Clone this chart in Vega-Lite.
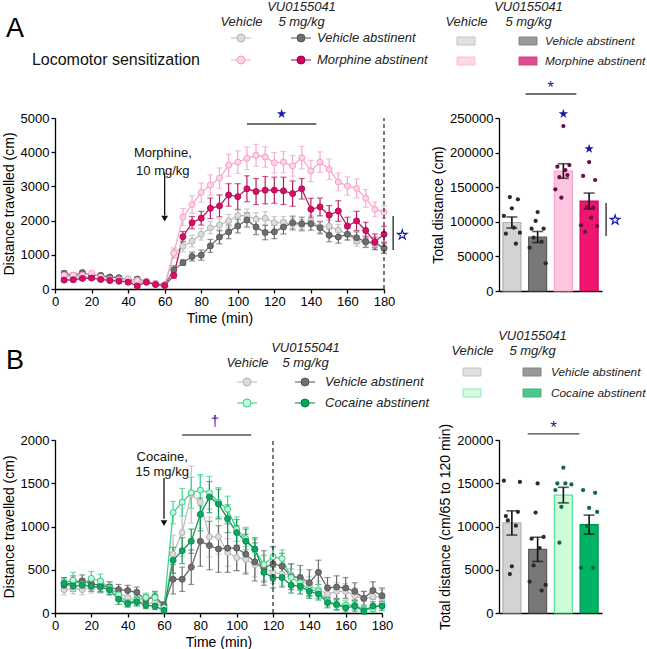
{
"$schema":"https://vega.github.io/schema/vega-lite/v6.json",
"background":"white",
"padding":{"left":2,"top":0,"right":0,"bottom":2},
"config":{"font":"Liberation Sans","view":{"stroke":null},
"axis":{"domainColor":"#000","domainWidth":1.3,"tickColor":"#000","tickWidth":1.3,"tickSize":4,"labelColor":"#000","labelFontSize":13,"labelPadding":2,"labelFlush":false,"labelOverlap":false,"titleColor":"#000","titleFontSize":14,"titleFontWeight":"normal","titlePadding":4,"grid":false}},
"datasets":{
"legA":[{"col":"Vehicle","row":"Vehicle abstinent","g":"VV"},{"col":"VU0155041","row":"Vehicle abstinent","g":"UV","label":"Vehicle abstinent"},{"col":"Vehicle","row":"Morphine abstinent","g":"VM"},{"col":"VU0155041","row":"Morphine abstinent","g":"UM","label":"Morphine abstinent"}],
"legB":[{"col":"Vehicle","row":"Vehicle abstinent","g":"VV"},{"col":"VU0155041","row":"Vehicle abstinent","g":"UV","label":"Vehicle abstinent"},{"col":"Vehicle","row":"Cocaine abstinent","g":"VC"},{"col":"VU0155041","row":"Cocaine abstinent","g":"UC","label":"Cocaine abstinent"}],
"lineA":[
{"t":5,"g":"VV","m":380,"s":50},{"t":10,"g":"VV","m":340,"s":50},{"t":15,"g":"VV","m":380,"s":60},{"t":20,"g":"VV","m":330,"s":50},{"t":25,"g":"VV","m":280,"s":40},{"t":30,"g":"VV","m":250,"s":40},{"t":35,"g":"VV","m":230,"s":40},{"t":40,"g":"VV","m":230,"s":40},{"t":45,"g":"VV","m":190,"s":40},{"t":50,"g":"VV","m":200,"s":40},{"t":55,"g":"VV","m":130,"s":30},{"t":60,"g":"VV","m":90,"s":30},{"t":65,"g":"VV","m":1050,"s":150},{"t":70,"g":"VV","m":1250,"s":160},{"t":75,"g":"VV","m":1400,"s":170},{"t":80,"g":"VV","m":1600,"s":170},{"t":85,"g":"VV","m":1790,"s":180},{"t":90,"g":"VV","m":1870,"s":180},{"t":95,"g":"VV","m":1990,"s":190},{"t":100,"g":"VV","m":2150,"s":190},{"t":105,"g":"VV","m":2140,"s":200},{"t":110,"g":"VV","m":2040,"s":190},{"t":115,"g":"VV","m":2070,"s":190},{"t":120,"g":"VV","m":1940,"s":180},{"t":125,"g":"VV","m":1940,"s":180},{"t":130,"g":"VV","m":1890,"s":180},{"t":135,"g":"VV","m":1860,"s":170},{"t":140,"g":"VV","m":1990,"s":170},{"t":145,"g":"VV","m":1820,"s":170},{"t":150,"g":"VV","m":1840,"s":180},{"t":155,"g":"VV","m":1720,"s":170},{"t":160,"g":"VV","m":1600,"s":160},{"t":165,"g":"VV","m":1400,"s":150},{"t":170,"g":"VV","m":1360,"s":150},{"t":175,"g":"VV","m":1310,"s":140},{"t":180,"g":"VV","m":1210,"s":130},
{"t":5,"g":"UV","m":460,"s":60},{"t":10,"g":"UV","m":400,"s":60},{"t":15,"g":"UV","m":480,"s":60},{"t":20,"g":"UV","m":400,"s":50},{"t":25,"g":"UV","m":400,"s":50},{"t":30,"g":"UV","m":350,"s":50},{"t":35,"g":"UV","m":330,"s":40},{"t":40,"g":"UV","m":260,"s":40},{"t":45,"g":"UV","m":290,"s":50},{"t":50,"g":"UV","m":220,"s":40},{"t":55,"g":"UV","m":160,"s":40},{"t":60,"g":"UV","m":120,"s":30},{"t":65,"g":"UV","m":560,"s":120},{"t":70,"g":"UV","m":770,"s":80},{"t":75,"g":"UV","m":950,"s":130},{"t":80,"g":"UV","m":990,"s":150},{"t":85,"g":"UV","m":1260,"s":190},{"t":90,"g":"UV","m":1520,"s":200},{"t":95,"g":"UV","m":1670,"s":200},{"t":100,"g":"UV","m":1840,"s":200},{"t":105,"g":"UV","m":2020,"s":210},{"t":110,"g":"UV","m":1810,"s":220},{"t":115,"g":"UV","m":1650,"s":210},{"t":120,"g":"UV","m":1670,"s":200},{"t":125,"g":"UV","m":1810,"s":200},{"t":130,"g":"UV","m":1940,"s":190},{"t":135,"g":"UV","m":1910,"s":190},{"t":140,"g":"UV","m":1910,"s":190},{"t":145,"g":"UV","m":1790,"s":180},{"t":150,"g":"UV","m":1570,"s":190},{"t":155,"g":"UV","m":1520,"s":180},{"t":160,"g":"UV","m":1600,"s":170},{"t":165,"g":"UV","m":1500,"s":170},{"t":170,"g":"UV","m":1380,"s":160},{"t":175,"g":"UV","m":1360,"s":150},{"t":180,"g":"UV","m":1190,"s":150},
{"t":5,"g":"VM","m":400,"s":60},{"t":10,"g":"VM","m":400,"s":60},{"t":15,"g":"VM","m":400,"s":60},{"t":20,"g":"VM","m":460,"s":60},{"t":25,"g":"VM","m":350,"s":50},{"t":30,"g":"VM","m":280,"s":40},{"t":35,"g":"VM","m":270,"s":40},{"t":40,"g":"VM","m":300,"s":40},{"t":45,"g":"VM","m":250,"s":40},{"t":50,"g":"VM","m":230,"s":40},{"t":55,"g":"VM","m":160,"s":30},{"t":60,"g":"VM","m":110,"s":30},{"t":65,"g":"VM","m":1050,"s":120},{"t":70,"g":"VM","m":2100,"s":250},{"t":75,"g":"VM","m":2470,"s":260},{"t":80,"g":"VM","m":2820,"s":280},{"t":85,"g":"VM","m":3040,"s":300},{"t":90,"g":"VM","m":3240,"s":300},{"t":95,"g":"VM","m":3620,"s":320},{"t":100,"g":"VM","m":3710,"s":330},{"t":105,"g":"VM","m":3820,"s":330},{"t":110,"g":"VM","m":3910,"s":320},{"t":115,"g":"VM","m":3860,"s":300},{"t":120,"g":"VM","m":3690,"s":300},{"t":125,"g":"VM","m":3710,"s":310},{"t":130,"g":"VM","m":3600,"s":300},{"t":135,"g":"VM","m":3840,"s":330},{"t":140,"g":"VM","m":3450,"s":310},{"t":145,"g":"VM","m":3710,"s":300},{"t":150,"g":"VM","m":3500,"s":300},{"t":155,"g":"VM","m":3130,"s":260},{"t":160,"g":"VM","m":3010,"s":270},{"t":165,"g":"VM","m":2940,"s":280},{"t":170,"g":"VM","m":2650,"s":260},{"t":175,"g":"VM","m":2330,"s":220},{"t":180,"g":"VM","m":2250,"s":180},
{"t":5,"g":"UM","m":260,"s":50},{"t":10,"g":"UM","m":270,"s":50},{"t":15,"g":"UM","m":310,"s":50},{"t":20,"g":"UM","m":320,"s":50},{"t":25,"g":"UM","m":280,"s":40},{"t":30,"g":"UM","m":250,"s":40},{"t":35,"g":"UM","m":230,"s":40},{"t":40,"g":"UM","m":200,"s":40},{"t":45,"g":"UM","m":90,"s":40},{"t":50,"g":"UM","m":200,"s":40},{"t":55,"g":"UM","m":130,"s":30},{"t":60,"g":"UM","m":100,"s":30},{"t":65,"g":"UM","m":400,"s":90},{"t":70,"g":"UM","m":1530,"s":150},{"t":75,"g":"UM","m":1940,"s":180},{"t":80,"g":"UM","m":2070,"s":200},{"t":85,"g":"UM","m":2360,"s":300},{"t":90,"g":"UM","m":2430,"s":320},{"t":95,"g":"UM","m":2750,"s":330},{"t":100,"g":"UM","m":2700,"s":380},{"t":105,"g":"UM","m":2930,"s":380},{"t":110,"g":"UM","m":2850,"s":380},{"t":115,"g":"UM","m":2890,"s":400},{"t":120,"g":"UM","m":2890,"s":380},{"t":125,"g":"UM","m":2870,"s":400},{"t":130,"g":"UM","m":2790,"s":370},{"t":135,"g":"UM","m":2930,"s":300},{"t":140,"g":"UM","m":2330,"s":320},{"t":145,"g":"UM","m":2400,"s":260},{"t":150,"g":"UM","m":2160,"s":280},{"t":155,"g":"UM","m":2280,"s":300},{"t":160,"g":"UM","m":1840,"s":260},{"t":165,"g":"UM","m":1990,"s":280},{"t":170,"g":"UM","m":1710,"s":240},{"t":175,"g":"UM","m":1380,"s":230},{"t":180,"g":"UM","m":1600,"s":230}],
"lineB":[
{"t":5,"g":"VV","m":270,"s":60},{"t":10,"g":"VV","m":280,"s":60},{"t":15,"g":"VV","m":270,"s":60},{"t":20,"g":"VV","m":300,"s":70},{"t":25,"g":"VV","m":300,"s":70},{"t":30,"g":"VV","m":270,"s":60},{"t":35,"g":"VV","m":230,"s":60},{"t":40,"g":"VV","m":180,"s":60},{"t":45,"g":"VV","m":140,"s":50},{"t":50,"g":"VV","m":110,"s":50},{"t":55,"g":"VV","m":120,"s":50},{"t":60,"g":"VV","m":60,"s":40},{"t":65,"g":"VV","m":680,"s":220},{"t":70,"g":"VV","m":930,"s":280},{"t":75,"g":"VV","m":1370,"s":330},{"t":80,"g":"VV","m":1280,"s":300},{"t":85,"g":"VV","m":880,"s":230},{"t":90,"g":"VV","m":880,"s":200},{"t":95,"g":"VV","m":700,"s":160},{"t":100,"g":"VV","m":640,"s":150},{"t":105,"g":"VV","m":620,"s":150},{"t":110,"g":"VV","m":560,"s":140},{"t":115,"g":"VV","m":520,"s":140},{"t":120,"g":"VV","m":470,"s":130},{"t":125,"g":"VV","m":450,"s":130},{"t":130,"g":"VV","m":440,"s":120},{"t":135,"g":"VV","m":390,"s":110},{"t":140,"g":"VV","m":310,"s":110},{"t":145,"g":"VV","m":270,"s":100},{"t":150,"g":"VV","m":220,"s":100},{"t":155,"g":"VV","m":250,"s":100},{"t":160,"g":"VV","m":250,"s":90},{"t":165,"g":"VV","m":200,"s":90},{"t":170,"g":"VV","m":160,"s":90},{"t":175,"g":"VV","m":190,"s":90},{"t":180,"g":"VV","m":180,"s":90},
{"t":5,"g":"UV","m":320,"s":60},{"t":10,"g":"UV","m":360,"s":70},{"t":15,"g":"UV","m":370,"s":70},{"t":20,"g":"UV","m":340,"s":70},{"t":25,"g":"UV","m":320,"s":70},{"t":30,"g":"UV","m":300,"s":60},{"t":35,"g":"UV","m":270,"s":60},{"t":40,"g":"UV","m":260,"s":60},{"t":45,"g":"UV","m":240,"s":60},{"t":50,"g":"UV","m":150,"s":60},{"t":55,"g":"UV","m":190,"s":60},{"t":60,"g":"UV","m":90,"s":40},{"t":65,"g":"UV","m":390,"s":170},{"t":70,"g":"UV","m":390,"s":140},{"t":75,"g":"UV","m":530,"s":200},{"t":80,"g":"UV","m":830,"s":290},{"t":85,"g":"UV","m":780,"s":280},{"t":90,"g":"UV","m":740,"s":270},{"t":95,"g":"UV","m":750,"s":280},{"t":100,"g":"UV","m":750,"s":260},{"t":105,"g":"UV","m":680,"s":230},{"t":110,"g":"UV","m":590,"s":220},{"t":115,"g":"UV","m":520,"s":200},{"t":120,"g":"UV","m":570,"s":200},{"t":125,"g":"UV","m":540,"s":150},{"t":130,"g":"UV","m":420,"s":150},{"t":135,"g":"UV","m":410,"s":140},{"t":140,"g":"UV","m":350,"s":150},{"t":145,"g":"UV","m":470,"s":140},{"t":150,"g":"UV","m":290,"s":120},{"t":155,"g":"UV","m":300,"s":130},{"t":160,"g":"UV","m":290,"s":120},{"t":165,"g":"UV","m":250,"s":100},{"t":170,"g":"UV","m":170,"s":80},{"t":175,"g":"UV","m":260,"s":100},{"t":180,"g":"UV","m":200,"s":90},
{"t":5,"g":"VC","m":350,"s":60},{"t":10,"g":"VC","m":380,"s":90},{"t":15,"g":"VC","m":330,"s":70},{"t":20,"g":"VC","m":400,"s":80},{"t":25,"g":"VC","m":370,"s":80},{"t":30,"g":"VC","m":290,"s":70},{"t":35,"g":"VC","m":210,"s":60},{"t":40,"g":"VC","m":120,"s":50},{"t":45,"g":"VC","m":150,"s":50},{"t":50,"g":"VC","m":180,"s":50},{"t":55,"g":"VC","m":180,"s":60},{"t":60,"g":"VC","m":60,"s":30},{"t":65,"g":"VC","m":1160,"s":130},{"t":70,"g":"VC","m":1280,"s":160},{"t":75,"g":"VC","m":1390,"s":180},{"t":80,"g":"VC","m":1420,"s":180},{"t":85,"g":"VC","m":1390,"s":190},{"t":90,"g":"VC","m":1280,"s":170},{"t":95,"g":"VC","m":1200,"s":150},{"t":100,"g":"VC","m":970,"s":140},{"t":105,"g":"VC","m":860,"s":130},{"t":110,"g":"VC","m":730,"s":120},{"t":115,"g":"VC","m":560,"s":110},{"t":120,"g":"VC","m":650,"s":110},{"t":125,"g":"VC","m":630,"s":100},{"t":130,"g":"VC","m":410,"s":100},{"t":135,"g":"VC","m":350,"s":90},{"t":140,"g":"VC","m":270,"s":80},{"t":145,"g":"VC","m":250,"s":80},{"t":150,"g":"VC","m":140,"s":60},{"t":155,"g":"VC","m":90,"s":60},{"t":160,"g":"VC","m":90,"s":50},{"t":165,"g":"VC","m":90,"s":50},{"t":170,"g":"VC","m":40,"s":40},{"t":175,"g":"VC","m":50,"s":40},{"t":180,"g":"VC","m":100,"s":40},
{"t":5,"g":"UC","m":340,"s":70},{"t":10,"g":"UC","m":310,"s":60},{"t":15,"g":"UC","m":320,"s":60},{"t":20,"g":"UC","m":310,"s":60},{"t":25,"g":"UC","m":300,"s":60},{"t":30,"g":"UC","m":270,"s":60},{"t":35,"g":"UC","m":160,"s":60},{"t":40,"g":"UC","m":110,"s":40},{"t":45,"g":"UC","m":130,"s":50},{"t":50,"g":"UC","m":90,"s":40},{"t":55,"g":"UC","m":80,"s":40},{"t":60,"g":"UC","m":30,"s":30},{"t":65,"g":"UC","m":610,"s":150},{"t":70,"g":"UC","m":720,"s":150},{"t":75,"g":"UC","m":830,"s":140},{"t":80,"g":"UC","m":1140,"s":190},{"t":85,"g":"UC","m":1340,"s":180},{"t":90,"g":"UC","m":1260,"s":170},{"t":95,"g":"UC","m":1090,"s":160},{"t":100,"g":"UC","m":930,"s":150},{"t":105,"g":"UC","m":830,"s":140},{"t":110,"g":"UC","m":740,"s":130},{"t":115,"g":"UC","m":470,"s":110},{"t":120,"g":"UC","m":410,"s":120},{"t":125,"g":"UC","m":410,"s":110},{"t":130,"g":"UC","m":320,"s":90},{"t":135,"g":"UC","m":310,"s":90},{"t":140,"g":"UC","m":250,"s":80},{"t":145,"g":"UC","m":220,"s":70},{"t":150,"g":"UC","m":120,"s":60},{"t":155,"g":"UC","m":100,"s":60},{"t":160,"g":"UC","m":60,"s":50},{"t":165,"g":"UC","m":80,"s":60},{"t":170,"g":"UC","m":25,"s":40},{"t":175,"g":"UC","m":80,"s":50},{"t":180,"g":"UC","m":80,"s":50}],
"barA":[{"grp":"VV","value":99000,"sem":8000},{"grp":"UV","value":78000,"sem":8000},{"grp":"VM","value":173400,"sem":10500},{"grp":"UM","value":130000,"sem":11500}],
"ptsA":[{"grp":"VV","animal":4,"value":135800},{"grp":"VV","animal":8,"value":132500},{"grp":"VV","animal":5,"value":119500},{"grp":"VV","animal":1,"value":108400},{"grp":"VV","animal":6,"value":91500},{"grp":"VV","animal":9,"value":84300},{"grp":"VV","animal":2,"value":82800},{"grp":"VV","animal":7,"value":68400},
{"grp":"UV","animal":5,"value":114100},{"grp":"UV","animal":4,"value":101200},{"grp":"UV","animal":2,"value":90000},{"grp":"UV","animal":8,"value":90000},{"grp":"UV","animal":3,"value":77000},{"grp":"UV","animal":7,"value":71200},{"grp":"UV","animal":1,"value":62600},{"grp":"UV","animal":9,"value":40000},
{"grp":"VM","animal":5,"value":238400},{"grp":"VM","animal":2,"value":179700},{"grp":"VM","animal":8,"value":182000},{"grp":"VM","animal":6,"value":174800},{"grp":"VM","animal":3,"value":164700},{"grp":"VM","animal":7,"value":167600},{"grp":"VM","animal":1,"value":147000},{"grp":"VM","animal":4,"value":134800},
{"grp":"UM","animal":5,"value":186400},{"grp":"UM","animal":2,"value":166200},{"grp":"UM","animal":8,"value":160400},{"grp":"UM","animal":4,"value":121400},{"grp":"UM","animal":7,"value":120400},{"grp":"UM","animal":6,"value":105900},{"grp":"UM","animal":1,"value":94900},{"grp":"UM","animal":9,"value":93900},{"grp":"UM","animal":3,"value":85700}],
"barB":[{"grp":"VV","value":10410,"sem":1400},{"grp":"UV","value":7360,"sem":1400},{"grp":"VC","value":13630,"sem":900},{"grp":"UC","value":10220,"sem":1100}],
"ptsB":[{"grp":"VV","animal":1,"value":15300},{"grp":"VV","animal":9,"value":15150},{"grp":"VV","animal":8,"value":11700},{"grp":"VV","animal":2,"value":11200},{"grp":"VV","animal":3,"value":10700},{"grp":"VV","animal":7,"value":10100},{"grp":"VV","animal":5,"value":5400},{"grp":"VV","animal":4,"value":4500},
{"grp":"UV","animal":5,"value":14980},{"grp":"UV","animal":4,"value":11610},{"grp":"UV","animal":8,"value":8790},{"grp":"UV","animal":2,"value":8590},{"grp":"UV","animal":6,"value":7510},{"grp":"UV","animal":3,"value":5500},{"grp":"UV","animal":1,"value":3640},{"grp":"UV","animal":9,"value":3250},{"grp":"UV","animal":7,"value":2600},
{"grp":"VC","animal":5,"value":16800},{"grp":"VC","animal":2,"value":14980},{"grp":"VC","animal":6,"value":14980},{"grp":"VC","animal":9,"value":14860},{"grp":"VC","animal":1,"value":14210},{"grp":"VC","animal":4,"value":12270},{"grp":"VC","animal":3,"value":8130},
{"grp":"UC","animal":2,"value":14210},{"grp":"UC","animal":8,"value":13900},{"grp":"UC","animal":5,"value":12160},{"grp":"UC","animal":9,"value":11690},{"grp":"UC","animal":4,"value":10070},{"grp":"UC","animal":1,"value":5230},{"grp":"UC","animal":7,"value":5230}]
},
"columns":2,
"bounds":"flush",
"align":"each",
"spacing":{"row":10,"column":115},
"resolve":{"scale":{"x":"independent","y":"independent","color":"independent","fill":"independent","stroke":"independent","xOffset":"independent"}},
"concat":[
{"width":329,"height":94,"data":{"name":"legA"},
"layer":[
{"mark":{"type":"tick","orient":"horizontal","size":20,"thickness":1.5},
"encoding":{
"x":{"field":"col","type":"nominal","scale":{"type":"point","domain":["Vehicle","VU0155041"],"range":[186,246],"padding":0},"axis":{"orient":"top","title":null,"domain":false,"ticks":false,"labelPadding":1,"labelAngle":0,"labelFontStyle":"italic","labelFontSize":13,"labelLineHeight":15,"labelColor":"#222","labelExpr":"datum.value == 'VU0155041' ? ['VU0155041', '5 mg/kg'] : ['', datum.value]"}},
"y":{"field":"row","type":"nominal","scale":{"type":"point","domain":["Vehicle abstinent","Morphine abstinent"],"range":[24,46],"padding":0},"axis":null},
"color":{"field":"g","type":"nominal","scale":{"domain":["VV","UV","VM","UM"],"range":["#bdbdbd","#5a5a5a","#f7a8cd","#b0104f"]},"legend":null}}},
{"mark":{"type":"point","filled":true,"size":64,"strokeWidth":1,"opacity":1},
"encoding":{"x":{"field":"col","type":"nominal"},"y":{"field":"row","type":"nominal"},
"fill":{"field":"g","type":"nominal","scale":{"domain":["VV","UV","VM","UM"],"range":["#dcdcdc","#6e6e6e","#ffd3e8","#d4005f"]},"legend":null},
"stroke":{"field":"g","type":"nominal","scale":{"domain":["VV","UV","VM","UM"],"range":["#b4b4b4","#5a5a5a","#f59fc8","#a0004a"]},"legend":null}}},
{"transform":[{"filter":"isValid(datum.label)"}],
"mark":{"type":"text","align":"left","baseline":"middle","dx":16,"fontSize":13,"fontStyle":"italic","color":"#222"},
"encoding":{"x":{"field":"col","type":"nominal"},"y":{"field":"row","type":"nominal"},"text":{"field":"label"}}},
{"data":{"values":[{"txt":"Locomotor sensitization","col":"Vehicle","row":"Morphine abstinent"}]},
"mark":{"type":"text","align":"right","baseline":"middle","dx":-41,"fontSize":16,"color":"#111"},
"encoding":{"x":{"field":"col","type":"nominal"},"y":{"field":"row","type":"nominal"},"text":{"field":"txt"}}},
{"data":{"values":[{"txt":"A","col":"Vehicle","row":"Vehicle abstinent"}]},
"mark":{"type":"text","align":"left","baseline":"middle","dx":-235,"dy":-9,"fontSize":27,"color":"#000"},
"encoding":{"x":{"field":"col","type":"nominal"},"y":{"field":"row","type":"nominal"},"text":{"field":"txt"}}}
]},
{"width":103,"height":94,"data":{"name":"legA"},
"layer":[
{"mark":{"type":"tick","orient":"horizontal","size":18,"thickness":8,"strokeWidth":1},
"encoding":{
"x":{"field":"col","type":"nominal","scale":{"type":"point","domain":["Vehicle","VU0155041"],"range":[-33,29],"padding":0},"axis":{"orient":"top","title":null,"domain":false,"ticks":false,"labelPadding":1,"labelAngle":0,"labelFontStyle":"italic","labelFontSize":13,"labelLineHeight":15,"labelColor":"#222","labelExpr":"datum.value == 'VU0155041' ? ['VU0155041', '5 mg/kg'] : ['', datum.value]"}},
"y":{"field":"row","type":"nominal","scale":{"type":"point","domain":["Vehicle abstinent","Morphine abstinent"],"range":[27,47],"padding":0},"axis":null},
"fill":{"field":"g","type":"nominal","scale":{"domain":["VV","UV","VM","UM"],"range":["#d4d4d4","#6f6f6f","#ffc8df","#d6005f"]},"legend":null},
"stroke":{"field":"g","type":"nominal","scale":{"domain":["VV","UV","VM","UM"],"range":["#ababab","#555555","#f7a4c8","#b0004d"]},"legend":null}}},
{"transform":[{"filter":"isValid(datum.label)"}],
"mark":{"type":"text","align":"left","baseline":"middle","dx":17,"fontSize":11.8,"fontStyle":"italic","color":"#222"},
"encoding":{"x":{"field":"col","type":"nominal"},"y":{"field":"row","type":"nominal"},"text":{"field":"label"}}}
]},
{"width":329,"height":171,
"encoding":{
"x":{"field":"t","type":"quantitative","scale":{"domain":[0,180],"nice":false,"zero":false},"axis":{"values":[0,20,40,60,80,100,120,140,160,180],"labelOverlap":false,"format":"d","title":"Time (min)","titlePadding":3}},
"y":{"field":"m","type":"quantitative","scale":{"domain":[0,5000],"nice":false},"axis":{"values":[0,1000,2000,3000,4000,5000],"labelOverlap":false,"format":"d","title":"Distance travelled (cm)"}}},
"layer":[
{"data":{"name":"lineA"},"mark":{"type":"line","strokeWidth":1.3},
"encoding":{"color":{"field":"g","type":"nominal","scale":{"domain":["VV","UV","VM","UM"],"range":["#bdbdbd","#6a6a6a","#f7a8cd","#b81a5e"]},"legend":null}}},
{"data":{"name":"lineA"},"mark":{"type":"errorbar","ticks":{"size":6},"thickness":1.2},
"encoding":{"yError":{"field":"s"},"color":{"field":"g","type":"nominal"}}},
{"data":{"name":"lineA"},"mark":{"type":"point","filled":true,"size":36,"strokeWidth":1,"opacity":1},
"encoding":{
"fill":{"field":"g","type":"nominal","scale":{"domain":["VV","UV","VM","UM"],"range":["#dcdcdc","#6e6e6e","#ffd3e8","#dc0a6a"]},"legend":null},
"stroke":{"field":"g","type":"nominal","scale":{"domain":["VV","UV","VM","UM"],"range":["#b4b4b4","#5a5a5a","#f59fc8","#b0104f"]},"legend":null}}},
{"data":{"values":[{"t":180,"m":0,"m2":5000}]},"mark":{"type":"rule","strokeDash":[4,3],"color":"#222","strokeWidth":1.2},"encoding":{"y2":{"field":"m2"}}},
{"data":{"values":[{"t":60,"m":3400,"m2":2150}]},"mark":{"type":"rule","color":"#111","strokeWidth":1.3},"encoding":{"y2":{"field":"m2"}}},
{"data":{"values":[{"t":60,"m":2060}]},"mark":{"type":"point","shape":"triangle-down","filled":true,"size":45,"color":"#111","opacity":1}},
{"data":{"values":[{"t":59,"m":3980,"label":"Morphine,\n10 mg/kg"}]},"mark":{"type":"text","lineBreak":"\n","fontSize":13,"lineHeight":18,"align":"center","baseline":"middle","color":"#111"},"encoding":{"text":{"field":"label"}}},
{"data":{"values":[{"t":105,"t2":143,"m":4825}]},"mark":{"type":"rule","color":"#444","strokeWidth":1.5},"encoding":{"x2":{"field":"t2"}}},
{"data":{"values":[{"t":124,"m":5120}]},"mark":{"type":"point","shape":"M0,-1L0.2245,-0.309L0.951,-0.309L0.363,0.118L0.588,0.809L0,0.382L-0.588,0.809L-0.363,0.118L-0.951,-0.309L-0.2245,-0.309Z","filled":true,"size":100,"color":"#1a1aa6","opacity":1}},
{"data":{"values":[{"t":185,"m":2134,"m2":1140}]},"mark":{"type":"rule","color":"#222","strokeWidth":1.3},"encoding":{"y2":{"field":"m2"}}},
{"data":{"values":[{"t":190,"m":1580}]},"mark":{"type":"point","shape":"M0,-1L0.2245,-0.309L0.951,-0.309L0.363,0.118L0.588,0.809L0,0.382L-0.588,0.809L-0.363,0.118L-0.951,-0.309L-0.2245,-0.309Z","filled":false,"size":100,"strokeWidth":1.2,"color":"#1a1aa6","opacity":1}}
]},
{"width":103,"height":173,
"encoding":{
"x":{"field":"grp","type":"nominal","scale":{"domain":["VV","UV","VM","UM"],"paddingInner":0.3,"paddingOuter":0.15},"axis":{"labels":false,"ticks":false,"title":null}},
"y":{"field":"value","type":"quantitative","scale":{"domain":[0,250000],"nice":false},"axis":{"values":[0,50000,100000,150000,200000,250000],"labelOverlap":false,"format":"d","title":"Total distance (cm)"}}},
"layer":[
{"data":{"name":"barA"},"mark":{"type":"bar","strokeWidth":1.2},
"encoding":{
"fill":{"field":"grp","type":"nominal","scale":{"domain":["VV","UV","VM","UM"],"range":["#d3d3d3","#787878","#ffc4de","#f0166f"]},"legend":null},
"stroke":{"field":"grp","type":"nominal","scale":{"domain":["VV","UV","VM","UM"],"range":["#b0b0b0","#5c5c5c","#f7a6cb","#d0005a"]},"legend":null}}},
{"data":{"name":"barA"},"mark":{"type":"errorbar","ticks":{"size":11},"thickness":1.6,"color":"#111"},
"encoding":{"yError":{"field":"sem"}}},
{"data":{"name":"ptsA"},"mark":{"type":"circle","size":18,"opacity":1},
"encoding":{"xOffset":{"field":"animal","type":"ordinal","scale":{"domain":[1,2,3,4,5,6,7,8,9],"paddingOuter":0.5}},
"color":{"field":"grp","type":"nominal","scale":{"domain":["VV","UV","VM","UM"],"range":["#2b2b2b","#2b2b2b","#6b0a4a","#6b0a4a"]},"legend":null}}},
{"data":{"values":[{"grp":"UV","grp2":"VM","value":284700}]},"mark":{"type":"rule","color":"#444","strokeWidth":1.4},"encoding":{"x":{"field":"grp","type":"nominal","bandPosition":-0.17,"axis":{"labels":false,"ticks":false,"title":null}},"x2":{"field":"grp2","bandPosition":1.22}}},
{"data":{"values":[{"grp":"UV","value":293300,"sym":"*"}]},"mark":{"type":"text","fontSize":17,"color":"#1a1aa6","baseline":"middle","align":"center"},"encoding":{"x":{"field":"grp","type":"nominal","bandPosition":1.22,"axis":{"labels":false,"ticks":false,"title":null}},"text":{"field":"sym"}}},
{"data":{"values":[{"grp":"VM","value":256000},{"grp":"UM","value":205600}]},"mark":{"type":"point","shape":"M0,-1L0.2245,-0.309L0.951,-0.309L0.363,0.118L0.588,0.809L0,0.382L-0.588,0.809L-0.363,0.118L-0.951,-0.309L-0.2245,-0.309Z","filled":true,"size":100,"color":"#1a1aa6","opacity":1}},
{"data":{"values":[{"grp":"UM","value":127000,"value2":79500}]},"mark":{"type":"rule","color":"#222","strokeWidth":1.3},"encoding":{"x":{"field":"grp","type":"nominal","bandPosition":1.44,"axis":{"labels":false,"ticks":false,"title":null}},"y2":{"field":"value2"}}},
{"data":{"values":[{"grp":"UM","value":102600}]},"mark":{"type":"point","shape":"M0,-1L0.2245,-0.309L0.951,-0.309L0.363,0.118L0.588,0.809L0,0.382L-0.588,0.809L-0.363,0.118L-0.951,-0.309L-0.2245,-0.309Z","filled":false,"size":100,"strokeWidth":1.2,"color":"#1a1aa6","opacity":1},"encoding":{"x":{"field":"grp","type":"nominal","bandPosition":1.94,"axis":{"labels":false,"ticks":false,"title":null}}}}
]},
{"width":329,"height":129,"data":{"name":"legB"},
"layer":[
{"mark":{"type":"tick","orient":"horizontal","size":20,"thickness":1.5},
"encoding":{
"x":{"field":"col","type":"nominal","scale":{"type":"point","domain":["Vehicle","VU0155041"],"range":[192,250],"padding":0},"axis":{"orient":"top","offset":-54,"title":null,"domain":false,"ticks":false,"labelPadding":1,"labelAngle":0,"labelFontStyle":"italic","labelFontSize":13,"labelLineHeight":15,"labelColor":"#222","labelExpr":"datum.value == 'VU0155041' ? ['VU0155041', '5 mg/kg'] : ['', datum.value]"}},
"y":{"field":"row","type":"nominal","scale":{"type":"point","domain":["Vehicle abstinent","Cocaine abstinent"],"range":[81,102],"padding":0},"axis":null},
"color":{"field":"g","type":"nominal","scale":{"domain":["VV","UV","VC","UC"],"range":["#bdbdbd","#5a5a5a","#36d88a","#0a8a4c"]},"legend":null}}},
{"mark":{"type":"point","filled":true,"size":64,"strokeWidth":1,"opacity":1},
"encoding":{"x":{"field":"col","type":"nominal"},"y":{"field":"row","type":"nominal"},
"fill":{"field":"g","type":"nominal","scale":{"domain":["VV","UV","VC","UC"],"range":["#dcdcdc","#6e6e6e","#c9f7da","#00a650"]},"legend":null},
"stroke":{"field":"g","type":"nominal","scale":{"domain":["VV","UV","VC","UC"],"range":["#b4b4b4","#5a5a5a","#2ccd80","#0a7a42"]},"legend":null}}},
{"transform":[{"filter":"isValid(datum.label)"}],
"mark":{"type":"text","align":"left","baseline":"middle","dx":20,"fontSize":13,"fontStyle":"italic","color":"#222"},
"encoding":{"x":{"field":"col","type":"nominal"},"y":{"field":"row","type":"nominal"},"text":{"field":"label"}}},
{"data":{"values":[{"txt":"B","col":"Vehicle","row":"Vehicle abstinent"}]},
"mark":{"type":"text","align":"left","baseline":"middle","dx":-241,"dy":-21,"fontSize":27,"color":"#000"},
"encoding":{"x":{"field":"col","type":"nominal"},"y":{"field":"row","type":"nominal"},"text":{"field":"txt"}}}
]},
{"width":103,"height":129,"data":{"name":"legB"},
"layer":[
{"mark":{"type":"tick","orient":"horizontal","size":18,"thickness":8,"strokeWidth":1},
"encoding":{
"x":{"field":"col","type":"nominal","scale":{"type":"point","domain":["Vehicle","VU0155041"],"range":[-27,33],"padding":0},"axis":{"orient":"top","offset":-42,"title":null,"domain":false,"ticks":false,"labelPadding":1,"labelAngle":0,"labelFontStyle":"italic","labelFontSize":13,"labelLineHeight":15,"labelColor":"#222","labelExpr":"datum.value == 'VU0155041' ? ['VU0155041', '5 mg/kg'] : ['', datum.value]"}},
"y":{"field":"row","type":"nominal","scale":{"type":"point","domain":["Vehicle abstinent","Cocaine abstinent"],"range":[71,92],"padding":0},"axis":null},
"fill":{"field":"g","type":"nominal","scale":{"domain":["VV","UV","VC","UC"],"range":["#d4d4d4","#6f6f6f","#ccfcd8","#00b35c"]},"legend":null},
"stroke":{"field":"g","type":"nominal","scale":{"domain":["VV","UV","VC","UC"],"range":["#ababab","#555555","#4de394","#008a45"]},"legend":null}}},
{"transform":[{"filter":"isValid(datum.label)"}],
"mark":{"type":"text","align":"left","baseline":"middle","dx":19,"fontSize":11.8,"fontStyle":"italic","color":"#222"},
"encoding":{"x":{"field":"col","type":"nominal"},"y":{"field":"row","type":"nominal"},"text":{"field":"label"}}}
]},
{"width":327,"height":173,
"encoding":{
"x":{"field":"t","type":"quantitative","scale":{"domain":[0,180],"nice":false,"zero":false},"axis":{"values":[0,20,40,60,80,100,120,140,160,180],"labelOverlap":false,"format":"d","title":"Time (min)","titlePadding":3}},
"y":{"field":"m","type":"quantitative","scale":{"domain":[0,2000],"nice":false},"axis":{"values":[0,500,1000,1500,2000],"labelOverlap":false,"format":"d","title":"Distance travelled (cm)"}}},
"layer":[
{"data":{"name":"lineB"},"mark":{"type":"line","strokeWidth":1.3},
"encoding":{"color":{"field":"g","type":"nominal","scale":{"domain":["VV","UV","VC","UC"],"range":["#bdbdbd","#6a6a6a","#36d88a","#0e9656"]},"legend":null}}},
{"data":{"name":"lineB"},"mark":{"type":"errorbar","ticks":{"size":6},"thickness":1.2},
"encoding":{"yError":{"field":"s"},"color":{"field":"g","type":"nominal"}}},
{"data":{"name":"lineB"},"mark":{"type":"point","filled":true,"size":36,"strokeWidth":1,"opacity":1},
"encoding":{
"fill":{"field":"g","type":"nominal","scale":{"domain":["VV","UV","VC","UC"],"range":["#dcdcdc","#6e6e6e","#c9f7da","#0fa85f"]},"legend":null},
"stroke":{"field":"g","type":"nominal","scale":{"domain":["VV","UV","VC","UC"],"range":["#b4b4b4","#5a5a5a","#2ccd80","#0a8a4c"]},"legend":null}}},
{"data":{"values":[{"t":120,"m":0,"m2":2000}]},"mark":{"type":"rule","strokeDash":[4,3],"color":"#222","strokeWidth":1.2},"encoding":{"y2":{"field":"m2"}}},
{"data":{"values":[{"t":60,"m":1560,"m2":1090}]},"mark":{"type":"rule","color":"#111","strokeWidth":1.3},"encoding":{"y2":{"field":"m2"}}},
{"data":{"values":[{"t":60,"m":1040}]},"mark":{"type":"point","shape":"triangle-down","filled":true,"size":45,"color":"#111","opacity":1}},
{"data":{"values":[{"t":59,"m":1798,"label":"Cocaine,\n15 mg/kg"}]},"mark":{"type":"text","lineBreak":"\n","fontSize":13,"lineHeight":15,"align":"center","baseline":"middle","color":"#111"},"encoding":{"text":{"field":"label"}}},
{"data":{"values":[{"t":70,"t2":108,"m":2058}]},"mark":{"type":"rule","color":"#555","strokeWidth":1.5},"encoding":{"x2":{"field":"t2"}}},
{"data":{"values":[{"t":88,"m":2220,"sym":"†"}]},"mark":{"type":"text","fontSize":15,"color":"#1a1aa6","baseline":"middle","align":"center"},"encoding":{"text":{"field":"sym"}}}
]},
{"width":103,"height":173,
"encoding":{
"x":{"field":"grp","type":"nominal","scale":{"domain":["VV","UV","VC","UC"],"paddingInner":0.3,"paddingOuter":0.15},"axis":{"labels":false,"ticks":false,"title":null}},
"y":{"field":"value","type":"quantitative","scale":{"domain":[0,20000],"nice":false},"axis":{"values":[0,5000,10000,15000,20000],"labelOverlap":false,"format":"d","title":"Total distance (cm/65 to 120 min)"}}},
"layer":[
{"data":{"name":"barB"},"mark":{"type":"bar","strokeWidth":1.2},
"encoding":{
"fill":{"field":"grp","type":"nominal","scale":{"domain":["VV","UV","VC","UC"],"range":["#d3d3d3","#787878","#ccfcd8","#00b464"]},"legend":null},
"stroke":{"field":"grp","type":"nominal","scale":{"domain":["VV","UV","VC","UC"],"range":["#b0b0b0","#5c5c5c","#54e39b","#00904f"]},"legend":null}}},
{"data":{"name":"barB"},"mark":{"type":"errorbar","ticks":{"size":11},"thickness":1.6,"color":"#111"},
"encoding":{"yError":{"field":"sem"}}},
{"data":{"name":"ptsB"},"mark":{"type":"circle","size":18,"opacity":1},
"encoding":{"xOffset":{"field":"animal","type":"ordinal","scale":{"domain":[1,2,3,4,5,6,7,8,9],"paddingOuter":0.5}},
"color":{"field":"grp","type":"nominal","scale":{"domain":["VV","UV","VC","UC"],"range":["#2b2b2b","#2b2b2b","#0b6b45","#0b6b45"]},"legend":null}}},
{"data":{"values":[{"grp":"UV","grp2":"VC","value":20710}]},"mark":{"type":"rule","color":"#444","strokeWidth":1.4},"encoding":{"x":{"field":"grp","type":"nominal","bandPosition":-0.05,"axis":{"labels":false,"ticks":false,"title":null}},"x2":{"field":"grp2","bandPosition":1.39}}},
{"data":{"values":[{"grp":"UV","value":21400,"sym":"*"}]},"mark":{"type":"text","fontSize":17,"color":"#1a1aa6","baseline":"middle","align":"center"},"encoding":{"x":{"field":"grp","type":"nominal","bandPosition":1.39,"axis":{"labels":false,"ticks":false,"title":null}},"text":{"field":"sym"}}}
]}
]
}
